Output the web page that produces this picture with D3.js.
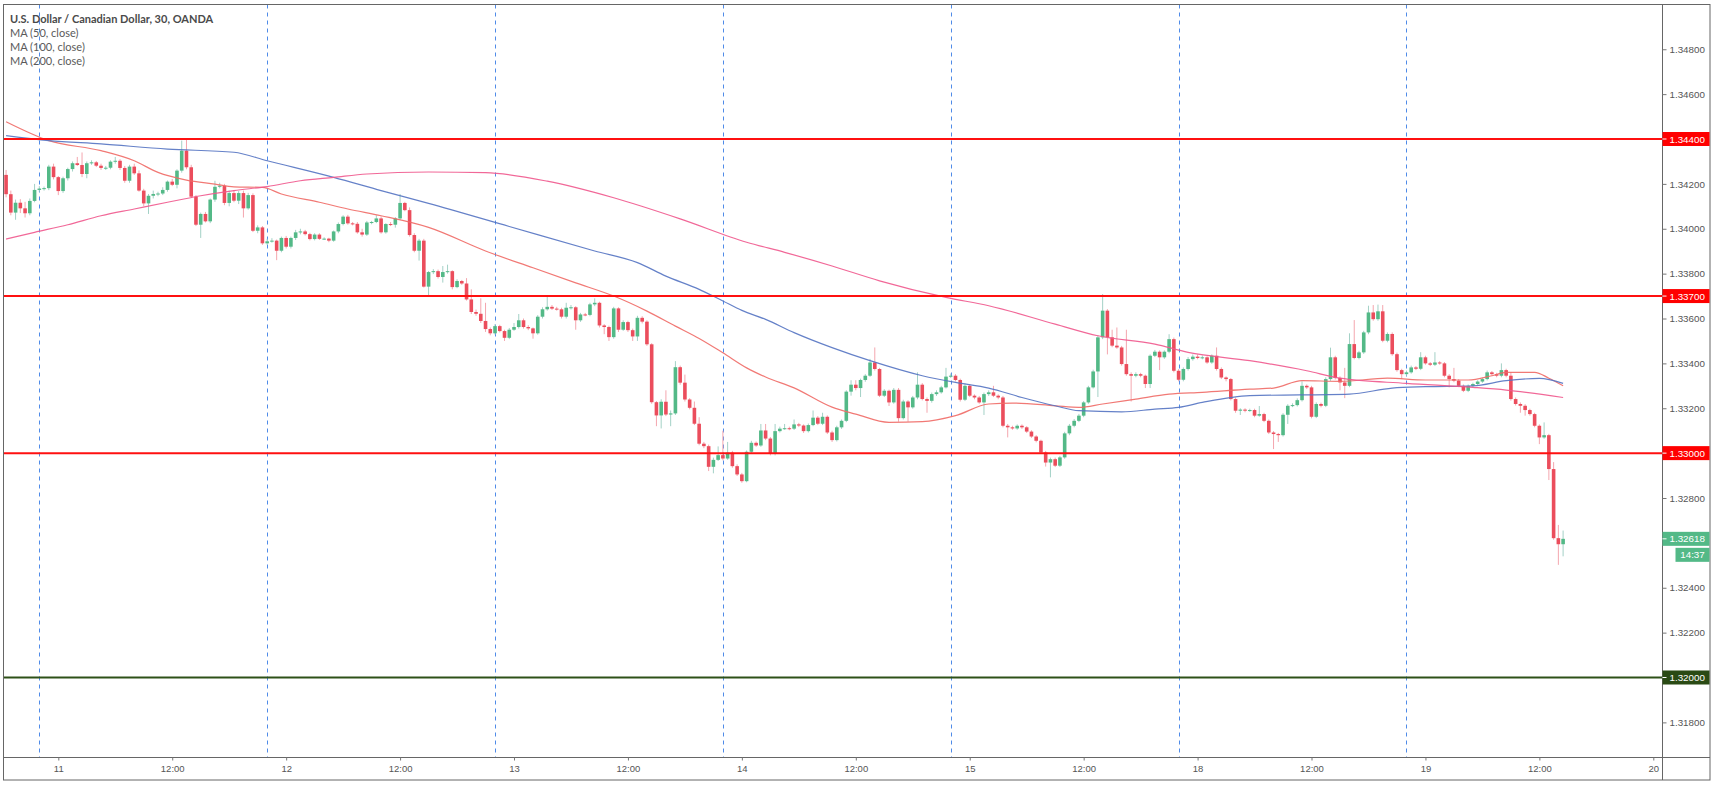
<!DOCTYPE html>
<html><head><meta charset="utf-8">
<script src="https://cdn.jsdelivr.net/npm/d3@7"></script>
<style>body{margin:0;background:#fff;}svg{display:block;}</style>
</head><body>
<svg id="chart" width="1716" height="786"></svg>
<script>
// ---------------- DATA ----------------
const title = "U.S. Dollar / Canadian Dollar, 30, OANDA";
const legendLabels = ["MA (50, close)", "MA (100, close)", "MA (200, close)"];
// 30-minute bars; bar index 0 = day 11, 00:00. First bar shown is index -11.
const firstBar = -11;
const opens = [
1.34240,1.34154,1.34072,1.34116,1.34091,1.34069,1.34124,1.34173,1.34179,1.34181,
1.34277,1.34230,1.34168,1.34225,1.34266,1.34292,1.34284,1.34244,1.34292,1.34296,
1.34281,1.34271,1.34272,1.34299,1.34303,1.34271,1.34214,1.34277,1.34247,1.34170,
1.34113,1.34147,1.34155,1.34157,1.34173,1.34210,1.34196,1.34259,1.34348,1.34274,
1.34143,1.34018,1.34066,1.34033,1.34130,1.34187,1.34192,1.34115,1.34159,1.34125,
1.34159,1.34091,1.34150,1.33991,1.34006,1.33935,1.33944,1.33947,1.33902,1.33959,
1.33920,1.33959,1.33984,1.33988,1.33976,1.33954,1.33974,1.33955,1.33956,1.33947,
1.33988,1.34021,1.34054,1.34024,1.34022,1.33984,1.33974,1.34028,1.34030,1.34046,
1.33984,1.34021,1.34018,1.34046,1.34115,1.34083,1.33972,1.33902,1.33947,1.33742,
1.33807,1.33811,1.33785,1.33807,1.33811,1.33740,1.33767,1.33756,1.33685,1.33629,
1.33621,1.33589,1.33553,1.33534,1.33566,1.33544,1.33514,1.33550,1.33562,1.33592,
1.33562,1.33556,1.33534,1.33608,1.33641,1.33652,1.33644,1.33641,1.33608,1.33648,
1.33650,1.33592,1.33618,1.33616,1.33663,1.33670,1.33569,1.33562,1.33517,1.33645,
1.33550,1.33584,1.33548,1.33520,1.33603,1.33586,1.33485,1.33227,1.33168,1.33229,
1.33172,1.33177,1.33383,1.33314,1.33239,1.33202,1.33131,1.33042,1.33031,1.32939,
1.32970,1.32991,1.32976,1.33002,1.32942,1.32905,1.32875,1.33006,1.33046,1.33034,
1.33101,1.33065,1.32997,1.33098,1.33109,1.33111,1.33109,1.33128,1.33123,1.33098,
1.33125,1.33158,1.33131,1.33162,1.33092,1.33058,1.33115,1.33144,1.33274,1.33305,
1.33290,1.33326,1.33345,1.33404,1.33375,1.33256,1.33278,1.33226,1.33282,1.33156,
1.33230,1.33204,1.33248,1.33305,1.33241,1.33233,1.33263,1.33271,1.33293,1.33341,
1.33345,1.33326,1.33238,1.33300,1.33256,1.33248,1.33226,1.33263,1.33271,1.33256,
1.33248,1.33122,1.33115,1.33110,1.33122,1.33115,1.33096,1.33074,1.33055,1.33003,
1.32958,1.32973,1.32944,1.32981,1.33088,1.33122,1.33144,1.33167,1.33226,1.33293,
1.33364,1.33516,1.33635,1.33516,1.33479,1.33471,1.33397,1.33352,1.33345,1.33352,
1.33345,1.33308,1.33434,1.33452,1.33427,1.33452,1.33508,1.33367,1.33327,1.33375,
1.33419,1.33430,1.33424,1.33427,1.33404,1.33434,1.33375,1.33337,1.33330,1.33241,
1.33189,1.33194,1.33189,1.33192,1.33167,1.33174,1.33144,1.33092,1.33085,1.33080,
1.33171,1.33211,1.33214,1.33236,1.33300,1.33293,1.33162,1.33219,1.33211,1.33330,
1.33427,1.33335,1.33315,1.33300,1.33486,1.33424,1.33449,1.33538,1.33627,1.33597,
1.33632,1.33501,1.33531,1.33441,1.33370,1.33352,1.33360,1.33382,1.33376,1.33427,
1.33400,1.33394,1.33404,1.33400,1.33345,1.33330,1.33323,1.33300,1.33278,1.33300,
1.33308,1.33319,1.33330,1.33360,1.33352,1.33345,1.33370,1.33345,1.33241,1.33219,
1.33211,1.33192,1.33174,1.33122,1.33070,1.33080,1.32929,1.32621,1.32594];
const highs = [
1.34262,1.34170,1.34130,1.34132,1.34120,1.34135,1.34200,1.34190,1.34188,1.34285,
1.34290,1.34235,1.34232,1.34272,1.34300,1.34320,1.34340,1.34300,1.34305,1.34302,
1.34290,1.34280,1.34305,1.34320,1.34310,1.34280,1.34285,1.34290,1.34260,1.34178,
1.34155,1.34170,1.34165,1.34185,1.34215,1.34222,1.34265,1.34393,1.34400,1.34285,
1.34150,1.34072,1.34075,1.34135,1.34214,1.34205,1.34200,1.34170,1.34172,1.34168,
1.34170,1.34160,1.34158,1.34015,1.34012,1.33955,1.33958,1.33952,1.33965,1.33968,
1.33965,1.33995,1.34000,1.33995,1.33982,1.33980,1.33980,1.33962,1.33960,1.33992,
1.34028,1.34060,1.34062,1.34030,1.34030,1.34000,1.34035,1.34035,1.34060,1.34055,
1.34025,1.34030,1.34052,1.34155,1.34120,1.34095,1.33980,1.33955,1.33955,1.33812,
1.33820,1.33818,1.33834,1.33840,1.33815,1.33775,1.33772,1.33780,1.33730,1.33640,
1.33690,1.33670,1.33560,1.33575,1.33572,1.33550,1.33558,1.33580,1.33620,1.33600,
1.33570,1.33560,1.33615,1.33650,1.33700,1.33660,1.33652,1.33648,1.33670,1.33660,
1.33655,1.33625,1.33625,1.33670,1.33690,1.33675,1.33575,1.33568,1.33652,1.33650,
1.33592,1.33590,1.33555,1.33612,1.33610,1.33592,1.33490,1.33232,1.33240,1.33280,
1.33190,1.33410,1.33390,1.33350,1.33245,1.33230,1.33160,1.33050,1.33038,1.32980,
1.33030,1.33100,1.33050,1.33010,1.32950,1.32912,1.33012,1.33055,1.33052,1.33130,
1.33130,1.33072,1.33130,1.33118,1.33130,1.33118,1.33150,1.33135,1.33128,1.33132,
1.33190,1.33165,1.33180,1.33168,1.33100,1.33122,1.33150,1.33280,1.33325,1.33325,
1.33332,1.33352,1.33420,1.33471,1.33380,1.33285,1.33283,1.33290,1.33290,1.33238,
1.33236,1.33255,1.33360,1.33312,1.33248,1.33270,1.33280,1.33300,1.33380,1.33355,
1.33352,1.33332,1.33310,1.33308,1.33262,1.33255,1.33270,1.33280,1.33300,1.33262,
1.33255,1.33130,1.33122,1.33128,1.33128,1.33120,1.33102,1.33080,1.33060,1.33010,
1.32980,1.32980,1.32988,1.33095,1.33130,1.33152,1.33175,1.33232,1.33300,1.33372,
1.33525,1.33709,1.33642,1.33550,1.33560,1.33478,1.33550,1.33360,1.33360,1.33358,
1.33350,1.33440,1.33460,1.33458,1.33458,1.33530,1.33515,1.33375,1.33382,1.33428,
1.33440,1.33440,1.33435,1.33432,1.33440,1.33471,1.33382,1.33342,1.33335,1.33248,
1.33200,1.33200,1.33198,1.33198,1.33210,1.33180,1.33150,1.33098,1.33090,1.33178,
1.33218,1.33222,1.33244,1.33320,1.33306,1.33300,1.33226,1.33225,1.33338,1.33470,
1.33434,1.33342,1.33380,1.33534,1.33593,1.33456,1.33545,1.33657,1.33660,1.33662,
1.33660,1.33538,1.33538,1.33448,1.33376,1.33368,1.33390,1.33388,1.33450,1.33434,
1.33406,1.33450,1.33410,1.33406,1.33352,1.33380,1.33330,1.33306,1.33306,1.33314,
1.33325,1.33336,1.33368,1.33366,1.33358,1.33400,1.33376,1.33360,1.33248,1.33226,
1.33218,1.33198,1.33180,1.33128,1.33137,1.33086,1.32960,1.32680,1.32655];
const lows = [
1.34140,1.34060,1.34040,1.34070,1.34050,1.34060,1.34118,1.34165,1.34170,1.34172,
1.34220,1.34150,1.34160,1.34215,1.34255,1.34280,1.34230,1.34225,1.34285,1.34275,
1.34262,1.34262,1.34265,1.34290,1.34262,1.34205,1.34205,1.34240,1.34165,1.34100,
1.34066,1.34135,1.34145,1.34150,1.34165,1.34190,1.34180,1.34250,1.34265,1.34138,
1.34012,1.33959,1.34028,1.34025,1.34120,1.34180,1.34105,1.34100,1.34118,1.34110,
1.34050,1.34085,1.33985,1.33980,1.33928,1.33928,1.33938,1.33860,1.33895,1.33912,
1.33912,1.33950,1.33975,1.33970,1.33948,1.33948,1.33950,1.33950,1.33940,1.33942,
1.33980,1.34015,1.34018,1.34015,1.33978,1.33965,1.33968,1.34020,1.34025,1.33978,
1.33978,1.34012,1.34005,1.34040,1.34078,1.33965,1.33895,1.33858,1.33738,1.33700,
1.33798,1.33778,1.33760,1.33800,1.33730,1.33735,1.33750,1.33680,1.33620,1.33612,
1.33580,1.33540,1.33525,1.33528,1.33538,1.33500,1.33508,1.33545,1.33555,1.33555,
1.33548,1.33510,1.33528,1.33600,1.33635,1.33638,1.33635,1.33600,1.33600,1.33640,
1.33550,1.33585,1.33610,1.33610,1.33655,1.33560,1.33530,1.33500,1.33510,1.33540,
1.33545,1.33540,1.33500,1.33500,1.33578,1.33478,1.33220,1.33120,1.33110,1.33165,
1.33120,1.33170,1.33305,1.33230,1.33195,1.33125,1.33035,1.33022,1.32920,1.32910,
1.32965,1.32968,1.32970,1.32935,1.32898,1.32868,1.32870,1.33000,1.33028,1.33028,
1.33058,1.32990,1.32990,1.33092,1.33104,1.33102,1.33103,1.33116,1.33090,1.33092,
1.33120,1.33125,1.33125,1.33085,1.33050,1.33052,1.33108,1.33138,1.33256,1.33280,
1.33250,1.33318,1.33340,1.33368,1.33250,1.33250,1.33210,1.33220,1.33140,1.33150,
1.33140,1.33198,1.33240,1.33235,1.33180,1.33225,1.33255,1.33265,1.33288,1.33335,
1.33320,1.33230,1.33232,1.33250,1.33240,1.33220,1.33170,1.33255,1.33250,1.33240,
1.33115,1.33070,1.33104,1.33104,1.33108,1.33090,1.33068,1.33048,1.32996,1.32940,
1.32892,1.32938,1.32938,1.32975,1.33080,1.33115,1.33138,1.33160,1.33220,1.33288,
1.33250,1.33508,1.33440,1.33472,1.33465,1.33390,1.33345,1.33230,1.33338,1.33338,
1.33290,1.33290,1.33428,1.33370,1.33420,1.33445,1.33360,1.33320,1.33320,1.33368,
1.33412,1.33418,1.33418,1.33398,1.33398,1.33368,1.33330,1.33320,1.33235,1.33180,
1.33170,1.33182,1.33184,1.33160,1.33162,1.33138,1.33085,1.33018,1.33050,1.33074,
1.33130,1.33205,1.33208,1.33230,1.33286,1.33155,1.33156,1.33204,1.33205,1.33322,
1.33328,1.33280,1.33245,1.33294,1.33418,1.33418,1.33442,1.33530,1.33590,1.33590,
1.33494,1.33494,1.33434,1.33363,1.33330,1.33345,1.33354,1.33370,1.33370,1.33394,
1.33388,1.33388,1.33394,1.33338,1.33293,1.33316,1.33294,1.33272,1.33272,1.33294,
1.33302,1.33313,1.33324,1.33346,1.33338,1.33338,1.33338,1.33234,1.33212,1.33180,
1.33167,1.33167,1.33115,1.33040,1.33064,1.32880,1.32614,1.32502,1.32540];
const closes = [
1.34154,1.34072,1.34116,1.34091,1.34069,1.34124,1.34173,1.34179,1.34181,1.34277,
1.34230,1.34168,1.34225,1.34266,1.34292,1.34284,1.34244,1.34292,1.34296,1.34281,
1.34271,1.34272,1.34299,1.34303,1.34271,1.34214,1.34277,1.34247,1.34170,1.34113,
1.34147,1.34155,1.34157,1.34173,1.34210,1.34196,1.34259,1.34348,1.34274,1.34143,
1.34018,1.34066,1.34033,1.34130,1.34187,1.34192,1.34115,1.34159,1.34125,1.34159,
1.34091,1.34150,1.33991,1.34006,1.33935,1.33944,1.33947,1.33902,1.33959,1.33920,
1.33959,1.33984,1.33988,1.33976,1.33954,1.33974,1.33955,1.33956,1.33947,1.33988,
1.34021,1.34054,1.34024,1.34022,1.33984,1.33974,1.34028,1.34030,1.34046,1.33984,
1.34021,1.34018,1.34046,1.34115,1.34083,1.33972,1.33902,1.33947,1.33742,1.33807,
1.33811,1.33785,1.33807,1.33811,1.33740,1.33767,1.33756,1.33685,1.33629,1.33621,
1.33589,1.33553,1.33534,1.33566,1.33544,1.33514,1.33550,1.33562,1.33592,1.33562,
1.33556,1.33534,1.33608,1.33641,1.33652,1.33644,1.33641,1.33608,1.33648,1.33650,
1.33592,1.33618,1.33616,1.33663,1.33670,1.33569,1.33562,1.33517,1.33645,1.33550,
1.33584,1.33548,1.33520,1.33603,1.33586,1.33485,1.33227,1.33168,1.33229,1.33172,
1.33177,1.33383,1.33314,1.33239,1.33202,1.33131,1.33042,1.33031,1.32939,1.32970,
1.32991,1.32976,1.33002,1.32942,1.32905,1.32875,1.33006,1.33046,1.33034,1.33101,
1.33065,1.32997,1.33098,1.33109,1.33111,1.33109,1.33128,1.33123,1.33098,1.33125,
1.33158,1.33131,1.33162,1.33092,1.33058,1.33115,1.33144,1.33274,1.33305,1.33290,
1.33326,1.33345,1.33404,1.33375,1.33256,1.33278,1.33226,1.33282,1.33156,1.33230,
1.33204,1.33248,1.33305,1.33241,1.33233,1.33263,1.33271,1.33293,1.33341,1.33345,
1.33326,1.33238,1.33300,1.33256,1.33248,1.33226,1.33263,1.33271,1.33256,1.33248,
1.33122,1.33115,1.33110,1.33122,1.33115,1.33096,1.33074,1.33055,1.33003,1.32958,
1.32973,1.32944,1.32981,1.33088,1.33122,1.33144,1.33167,1.33226,1.33293,1.33364,
1.33516,1.33635,1.33516,1.33479,1.33471,1.33397,1.33352,1.33345,1.33352,1.33345,
1.33308,1.33434,1.33452,1.33427,1.33452,1.33508,1.33367,1.33327,1.33375,1.33419,
1.33430,1.33424,1.33427,1.33404,1.33434,1.33375,1.33337,1.33330,1.33241,1.33189,
1.33194,1.33189,1.33192,1.33167,1.33174,1.33144,1.33092,1.33085,1.33080,1.33171,
1.33211,1.33214,1.33236,1.33300,1.33293,1.33162,1.33219,1.33211,1.33330,1.33427,
1.33335,1.33315,1.33300,1.33486,1.33424,1.33449,1.33538,1.33627,1.33597,1.33632,
1.33501,1.33531,1.33441,1.33370,1.33352,1.33360,1.33382,1.33376,1.33427,1.33400,
1.33394,1.33404,1.33400,1.33345,1.33330,1.33323,1.33300,1.33278,1.33300,1.33308,
1.33319,1.33330,1.33360,1.33352,1.33345,1.33370,1.33345,1.33241,1.33219,1.33211,
1.33192,1.33174,1.33122,1.33070,1.33080,1.32929,1.32621,1.32594,1.32618];

const ma50Bars = [-11,-2,9,16,21,27,33,37,43,47,55,61,68,78,90,100,109,117,124,130,135,140,145,149,155,163,168,175,182,189,196,201,210,215,220,227,234,241,251,256,262,270,280,288,297,302,305,311,314,317];
const ma50 = [1.34477,1.34393,1.34348,1.34303,1.34251,1.34217,1.34199,1.34187,1.34184,1.34155,1.34118,1.34088,1.34058,1.34006,1.33901,1.33826,1.33759,1.33700,1.33633,1.33566,1.33511,1.33447,1.33380,1.33339,1.33291,1.33205,1.33174,1.33137,1.33140,1.33167,1.33219,1.33223,1.33211,1.33204,1.33219,1.33241,1.33263,1.33271,1.33285,1.33290,1.33323,1.33320,1.33334,1.33326,1.33326,1.33345,1.33360,1.33360,1.33334,1.33300];
const ma100Bars = [-11,-2,9,23,37,44,58,68,78,95,113,122,128,135,140,144,149,155,163,171,182,189,196,203,210,215,224,231,236,241,251,272,281,288,298,305,312,317];
const ma100 = [1.34415,1.34393,1.34378,1.34355,1.34341,1.34303,1.34229,1.34170,1.34113,1.34010,1.33901,1.33849,1.33789,1.33730,1.33678,1.33636,1.33596,1.33537,1.33470,1.33412,1.33345,1.33315,1.33290,1.33248,1.33211,1.33189,1.33184,1.33196,1.33204,1.33226,1.33256,1.33263,1.33290,1.33296,1.33300,1.33323,1.33333,1.33311];
const ma200Bars = [-11,-5,2,9,16,23,30,37,44,51,58,65,78,90,103,117,131,145,153,163,173,187,196,210,219,231,238,251,263,270,284,298,305,317];
const ma200 = [1.33954,1.33984,1.34018,1.34058,1.34088,1.34118,1.34147,1.34170,1.34188,1.34214,1.34229,1.34244,1.34253,1.34250,1.34212,1.34138,1.34044,1.33940,1.33895,1.33834,1.33768,1.33694,1.33657,1.33575,1.33523,1.33486,1.33449,1.33412,1.33367,1.33334,1.33311,1.33293,1.33281,1.33248];

const xTickBars = [0,24,48,72,96,120,144,168,192,216,240,264,288,312,336];
const xTickLabels = ["11","12:00","12","12:00","13","12:00","14","12:00","15","12:00","18","12:00","19","12:00","20"];
const sessionBreakBars = [-4,44,92,140,188,236,284];
// plain axis labels (the levels 1.344, 1.330, 1.320 and the last price carry their own boxed labels)
const yTickValues = [1.318,1.322,1.324,1.328,1.332,1.334,1.336,1.338,1.340,1.342,1.346,1.348];
const resistanceLevels = [1.344, 1.337, 1.330];
const supportLevels = [1.320];
const lastPrice = 1.32618;
const countdown = "14:37";

// ---------------- DRAW ----------------
const svg = d3.select("#chart");
const P = {left: 3.5, top: 4.5, right: 1662.5, bottom: 757.5, outerRight: 1710, outerBottom: 780};
const x = d3.scaleLinear().domain([0, 336]).range([58.3, 1653.3]);
const y = d3.scaleLinear().domain([1.32, 1.344]).range([677.5, 139]);
const fmt = d3.format(".5f");
const axisFont = "'Liberation Sans', Arial, sans-serif";

svg.append("rect").attr("width", 1716).attr("height", 786).attr("fill", "#fff");

svg.append("defs").append("clipPath").attr("id", "plotClip")
  .append("rect").attr("x", P.left).attr("y", P.top)
  .attr("width", P.right - P.left).attr("height", P.bottom - P.top);

const plot = svg.append("g").attr("clip-path", "url(#plotClip)");

// session breaks
plot.selectAll("line.sb").data(sessionBreakBars).enter().append("line")
  .attr("x1", d => Math.round(x(d)) + 0.5).attr("x2", d => Math.round(x(d)) + 0.5)
  .attr("y1", P.top).attr("y2", P.bottom)
  .attr("stroke", "#4f8be8").attr("stroke-width", 1).attr("stroke-dasharray", "4,4");

// candles
const bars = closes.map((c, k) => ({i: firstBar + k, o: opens[k], h: highs[k], l: lows[k], c: c}));
const bw = 3.6;
const cg = plot.append("g");
cg.selectAll("line.w").data(bars).enter().append("line")
  .attr("x1", d => x(d.i)).attr("x2", d => x(d.i))
  .attr("y1", d => y(d.h)).attr("y2", d => y(d.l))
  .attr("stroke", d => d.c >= d.o ? "#a3d1c6" : "#f4a6ae").attr("stroke-width", 1);
cg.selectAll("rect.b").data(bars).enter().append("rect")
  .attr("x", d => x(d.i) - bw / 2).attr("width", bw)
  .attr("y", d => y(Math.max(d.o, d.c)))
  .attr("height", d => Math.max(1, Math.abs(y(d.o) - y(d.c))))
  .attr("fill", d => d.c >= d.o ? "#53b987" : "#eb4d5c");

// moving averages
const line = d3.line().x(d => x(d[0])).y(d => y(d[1])).curve(d3.curveMonotoneX);
const maDefs = [
  {bars: ma50Bars, vals: ma50, color: "#ef6a66"},
  {bars: ma100Bars, vals: ma100, color: "#5473c2"},
  {bars: ma200Bars, vals: ma200, color: "#f0588d"}
];
maDefs.forEach(m => {
  plot.append("path").datum(m.bars.map((b, k) => [b, m.vals[k]]))
    .attr("d", line).attr("fill", "none").attr("stroke", m.color)
    .attr("stroke-width", 1.2).attr("stroke-opacity", 0.9);
});

// horizontal levels
plot.selectAll("line.res").data(resistanceLevels).enter().append("line")
  .attr("x1", P.left).attr("x2", P.right).attr("y1", d => y(d)).attr("y2", d => y(d))
  .attr("stroke", "#ff1010").attr("stroke-width", 2);
plot.selectAll("line.sup").data(supportLevels).enter().append("line")
  .attr("x1", P.left).attr("x2", P.right).attr("y1", d => y(d)).attr("y2", d => y(d))
  .attr("stroke", "#2e5118").attr("stroke-width", 2);

// frame
const frameColor = "#666";
svg.append("rect").attr("x", P.left).attr("y", P.top)
  .attr("width", P.outerRight - P.left).attr("height", P.outerBottom - P.top)
  .attr("fill", "none").attr("stroke", frameColor).attr("stroke-width", 1);
svg.append("line").attr("x1", P.right).attr("x2", P.right).attr("y1", P.top).attr("y2", P.outerBottom)
  .attr("stroke", frameColor);
svg.append("line").attr("x1", P.left).attr("x2", P.outerRight).attr("y1", P.bottom).attr("y2", P.bottom)
  .attr("stroke", frameColor);

// y axis
const yAxis = svg.append("g").attr("transform", `translate(${P.right},0)`)
  .call(d3.axisRight(y).tickValues(yTickValues).tickFormat(fmt).tickSize(4).tickPadding(3));
yAxis.select(".domain").remove();
yAxis.selectAll("line").attr("stroke", "#777");
yAxis.selectAll("text").attr("fill", "#555").style("font-family", axisFont).style("font-size", "9.8px");

// x axis
const xAxis = svg.append("g").attr("transform", `translate(0,${P.bottom})`)
  .call(d3.axisBottom(x).tickValues(xTickBars).tickFormat((d, k) => xTickLabels[k]).tickSize(3).tickPadding(5));
xAxis.select(".domain").remove();
xAxis.selectAll("line").attr("stroke", "#777");
xAxis.selectAll("text").attr("fill", "#555").style("font-family", axisFont).style("font-size", "9.5px");

// price labels on axis
function priceBox(v, bg) {
  const cy = y(v);
  svg.append("rect").attr("x", P.right).attr("y", cy - 7).attr("width", P.outerRight - P.right - 0.5).attr("height", 14).attr("fill", bg);
  svg.append("line").attr("x1", P.right).attr("x2", P.right + 4).attr("y1", cy).attr("y2", cy).attr("stroke", "#fff");
  svg.append("text").attr("x", P.right + 7).attr("y", cy + 3.5).text(fmt(v))
    .attr("fill", "#fff").style("font-family", axisFont).style("font-size", "9.8px");
}
resistanceLevels.forEach(v => priceBox(v, "#ff0000"));
supportLevels.forEach(v => priceBox(v, "#2a4a14"));
priceBox(lastPrice, "#53b987");
{
  const cy = y(lastPrice) + 16;
  svg.append("rect").attr("x", 1675.5).attr("y", cy - 7).attr("width", 34).attr("height", 14).attr("fill", "#53b987");
  svg.append("text").attr("x", 1692.5).attr("y", cy + 3.5).attr("text-anchor", "middle").text(countdown)
    .attr("fill", "#fff").style("font-family", axisFont).style("font-size", "9.8px");
}

// legend
const legFont = "Lato, 'Liberation Sans', sans-serif";
svg.append("text").attr("x", 10).attr("y", 22.5).text(title)
  .attr("fill", "#4a4a4a").style("font-family", legFont).style("font-size", "11px").style("font-weight", "bold");
legendLabels.forEach((t, k) => {
  svg.append("text").attr("x", 10).attr("y", 37 + k * 14.2).text(t)
    .attr("fill", "#5a5a5a").style("font-family", legFont).style("font-size", "11px");
});
</script>
</body></html>
